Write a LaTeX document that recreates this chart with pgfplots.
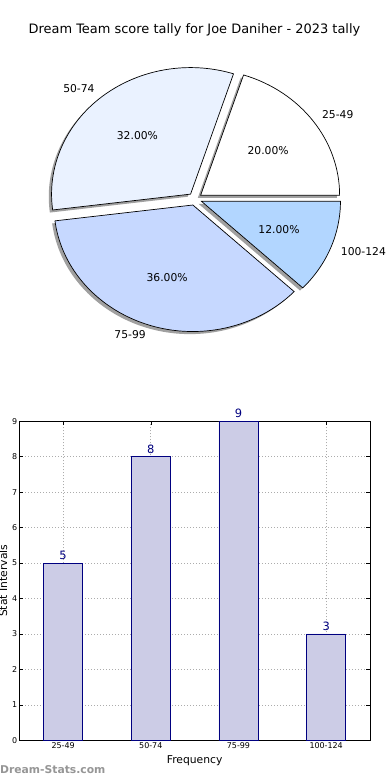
\documentclass[border=0pt]{standalone}
\usepackage{pgfplots}
\pgfplotsset{compat=1.18}
\usepackage{fontspec}
\setmainfont{DejaVu Sans}
\definecolor{pieA}{RGB}{255,255,255}
\definecolor{pieB}{RGB}{234,242,255}
\definecolor{pieC}{RGB}{198,216,255}
\definecolor{pieD}{RGB}{178,214,255}
\definecolor{barfill}{RGB}{204,204,230}
\definecolor{navyc}{RGB}{0,0,128}
\definecolor{shadowc}{RGB}{160,160,160}
\definecolor{wmark}{RGB}{150,150,150}

% #1 cumulative count before slice, #2 count of slice (total 25 -> 14.4 deg each), #3 path style
\newcommand{\pieslice}[3]{%
  \path[#3] ({0.05*cos((#1+#2/2)*14.4)+cos(#1*14.4)},{0.05*sin((#1+#2/2)*14.4)+sin(#1*14.4)})
    arc[start angle={#1*14.4}, end angle={(#1+#2)*14.4}, x radius=139bp, y radius=126.5bp]
    -- ({0.05*cos((#1+#2/2)*14.4)},{0.05*sin((#1+#2/2)*14.4)}) -- cycle;}
% #1 cumulative, #2 count, #3 percent text, #4 label, #5 anchor of label
\newcommand{\pielabels}[5]{%
  \node[font=\fontsize{10.8}{12}\selectfont] at ({0.65*cos((#1+#2/2)*14.4)},{0.65*sin((#1+#2/2)*14.4)}) {#3};
  \node[font=\fontsize{10.8}{12}\selectfont, anchor=#5, inner sep=1bp] at ({1.12*cos((#1+#2/2)*14.4)},{1.13*sin((#1+#2/2)*14.4)}) {#4};}

\begin{document}
\begin{tikzpicture}
\useasboundingbox (0,0) rectangle (390bp,780bp);
\fill[white] (0,0) rectangle (390bp,780bp);

\node[font=\fontsize{13}{15}\selectfont] at (194.5bp,750bp) {Dream Team score tally for Joe Daniher - 2023 tally};

% ---------------- pie ----------------
\begin{axis}[
  at={(195bp,581bp)}, anchor=center,
  x=139bp, y=126.5bp,
  xmin=-1.3, xmax=1.3, ymin=-1.3, ymax=1.3,
  hide axis, clip=false]
  % shadows (counts 5, 8, 9, 3 of 25)
  \pieslice{0}{5}{fill=shadowc, shift={(-2.8bp,-2.6bp)}}
  \pieslice{5}{8}{fill=shadowc, shift={(-2.8bp,-2.6bp)}}
  \pieslice{13}{9}{fill=shadowc, shift={(-2.8bp,-2.6bp)}}
  \pieslice{22}{3}{fill=shadowc, shift={(-2.8bp,-2.6bp)}}
  % wedges
  \pieslice{0}{5}{fill=pieA, draw=black, line width=0.7bp}
  \pieslice{5}{8}{fill=pieB, draw=black, line width=0.7bp}
  \pieslice{13}{9}{fill=pieC, draw=black, line width=0.7bp}
  \pieslice{22}{3}{fill=pieD, draw=black, line width=0.7bp}
  \pielabels{0}{5}{20.00\%}{25-49}{west}
  \pielabels{5}{8}{32.00\%}{50-74}{east}
  \pielabels{13}{9}{36.00\%}{75-99}{east}
  \pielabels{22}{3}{12.00\%}{100-124}{west}
\end{axis}

% ---------------- bars ----------------
\begin{axis}[
  at={(19.3bp,39.7bp)}, anchor=south west,
  scale only axis, width=350.7bp, height=319bp,
  xmin=-0.5, xmax=3.5, ymin=0, ymax=9,
  xtick={0,1,2,3}, xticklabels={25-49,50-74,75-99,100-124},
  ytick={0,1,2,3,4,5,6,7,8,9},
  /pgf/number format/assume math mode=true,
  tick label style={font=\fontsize{8}{9}\selectfont},
  xticklabel style={inner sep=2bp},
  yticklabel style={inner sep=2bp},
  major tick length=4bp,
  tick style={black, line width=0.6bp},
  axis line style={black, line width=0.9bp},
  grid=major,
  grid style={gray!65, line width=0.7bp, dash pattern=on 1bp off 2bp},
  xlabel={Frequency}, ylabel={Stat Intervals},
  label style={font=\fontsize{10.8}{12}\selectfont},
  xlabel style={at={(axis description cs:0.5,-0.065)}, anchor=center},
  ylabel style={at={(axis description cs:-0.0465,0.5)}, anchor=center},
  clip=false]
  \addplot[ybar, bar width=0.445, fill=barfill, draw=navyc, line width=0.8bp,
    nodes near coords,
    every node near coord/.append style={font=\fontsize{11.5}{12}\selectfont, text=navyc, anchor=south, inner sep=0pt, yshift=3bp}]
    coordinates {(0,5) (1,8) (2,9) (3,3)};
\end{axis}

\node[anchor=west, inner sep=0pt, text=wmark, font=\bfseries\fontsize{10.8}{12}\selectfont] at (0bp,10bp) {Dream-Stats.com};
\end{tikzpicture}
\end{document}
